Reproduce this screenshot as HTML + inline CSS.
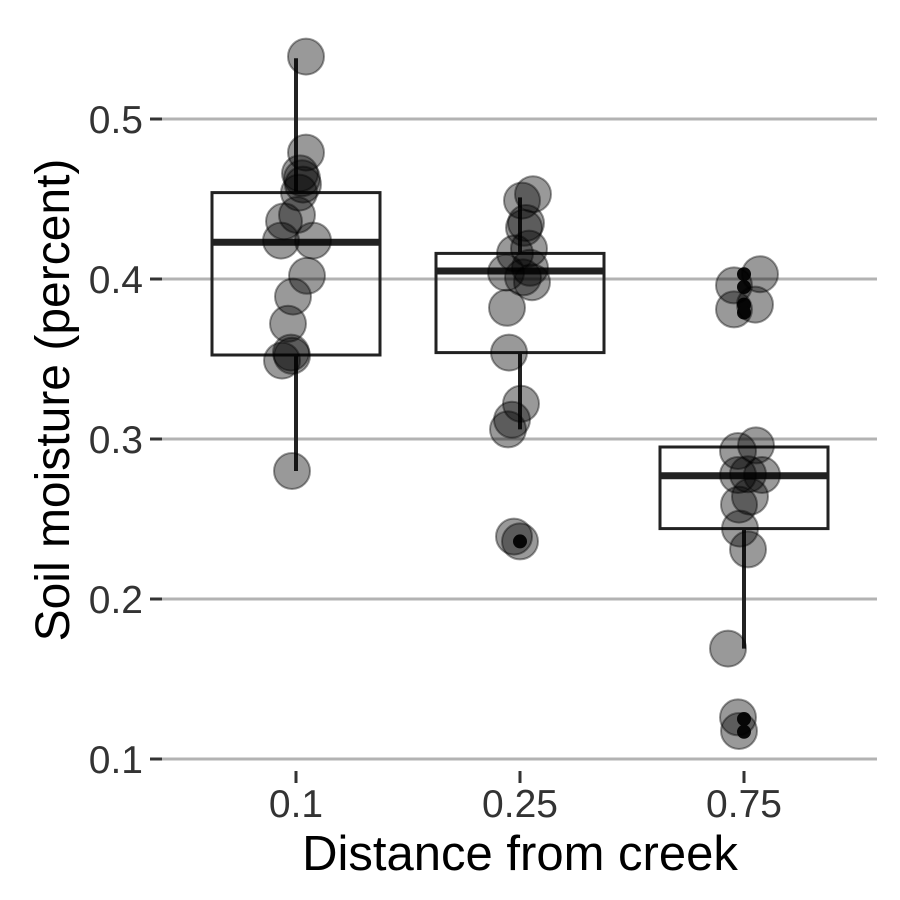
<!DOCTYPE html>
<html><head><meta charset="utf-8"><style>body{margin:0;background:#fff}svg{display:block}text{font-family:"Liberation Sans",sans-serif}</style></head>
<body>
<svg id="chart" width="900" height="900"></svg>
<script>
const categories=["0.1","0.25","0.75"];
const yTicks=[0.1,0.2,0.3,0.4,0.5];
const q1=[0.3525,0.354,0.244];
const medians=[0.423,0.405,0.277];
const q3=[0.454,0.416,0.295];
const whiskLo=[0.28,0.306,0.169];
const whiskHi=[0.538,0.451,0.295];
const outliers=[[],[0.236],[0.403,0.395,0.384,0.379,0.125,0.117]];
const pts0=[0.539,0.479,0.466,0.463,0.459,0.454,0.440,0.436,0.424,0.424,0.402,0.389,0.372,0.354,0.349,0.352,0.28];
const pts1=[0.453,0.449,0.435,0.432,0.419,0.416,0.404,0.401,0.407,0.398,0.382,0.354,0.322,0.312,0.306,0.239,0.236];
const pts2=[0.403,0.396,0.384,0.381,0.2925,0.296,0.2775,0.2775,0.278,0.264,0.259,0.244,0.231,0.169,0.126,0.1175];
const jitter0=[10,10,4,6,7,3,1,-12,-15,17,11,-3,-8,-5,-14,-4,-4];
const jitter1=[13,2,6,4,9,-5,-14,3,10,12,-13,-11,1,-8,-12,-6,0];
const jitter2=[16,-10,11,-10,-6,12,-6,18,4,6,-5,-4,4,-16,-6,-5];
const pts=[pts0,pts1,pts2], jit=[jitter0,jitter1,jitter2];
const NS="http://www.w3.org/2000/svg", svg=document.getElementById("chart");
const y=v=>759-(v-0.1)*1600;
const x=i=>296+i*224;
function mk(t,a,p){const e=document.createElementNS(NS,t);for(const k in a)e.setAttribute(k,a[k]);(p||svg).appendChild(e);return e;}
yTicks.forEach(t=>{
 const g=mk("line",{x1:162,x2:877,y1:y(t),y2:y(t),stroke:"#b3b3b3","stroke-width":3});
 
 
 const tk=mk("line",{x1:150,x2:162,y1:y(t),y2:y(t),stroke:"#333","stroke-width":3});
 
 
 const l=mk("text",{x:143,y:y(t)+14,"text-anchor":"end","font-size":39,fill:"#333"});
 l.textContent=t.toFixed(1);
 
 
});
categories.forEach((c,i)=>{
 const cx=x(i);
 const tk=mk("line",{x1:cx,x2:cx,y1:771,y2:783,stroke:"#333","stroke-width":3});
 
 
 const l=mk("text",{x:cx,y:817,"text-anchor":"middle","font-size":39,fill:"#333"});
 l.textContent=c;
 
 
 const w=mk("line",{x1:cx,x2:cx,y1:y(whiskHi[i]),y2:y(q3[i]),stroke:"#222","stroke-width":4});
 
 
 const w2=mk("line",{x1:cx,x2:cx,y1:y(q1[i]),y2:y(whiskLo[i]),stroke:"#222","stroke-width":4});
 
 
 const b=mk("rect",{x:cx-84,y:y(q3[i]),width:168,height:y(q1[i])-y(q3[i]),fill:"none",stroke:"#222","stroke-width":3});
 
 
 const m=mk("line",{x1:cx-84,x2:cx+84,y1:y(medians[i]),y2:y(medians[i]),stroke:"#222","stroke-width":7});
 
 
 outliers[i].forEach(o=>{
  const d=mk("circle",{cx:cx,cy:y(o),r:7,fill:"#111"});
  
  
 });
 pts[i].forEach((v,j)=>{
  const p=mk("circle",{cx:cx+jit[i][j],cy:y(v),r:18,fill:"rgba(0,0,0,0.4)",stroke:"rgba(0,0,0,0.4)","stroke-width":2});
  
  
 });
});
const xt=mk("text",{x:520,y:870,"text-anchor":"middle","font-size":49,fill:"#000"});
xt.textContent="Distance from creek";


const yt=mk("text",{x:0,y:0,"text-anchor":"middle","font-size":48,fill:"#000",transform:"translate(69,400) rotate(-90)"});
yt.textContent="Soil moisture (percent)";


</script>
</body></html>
